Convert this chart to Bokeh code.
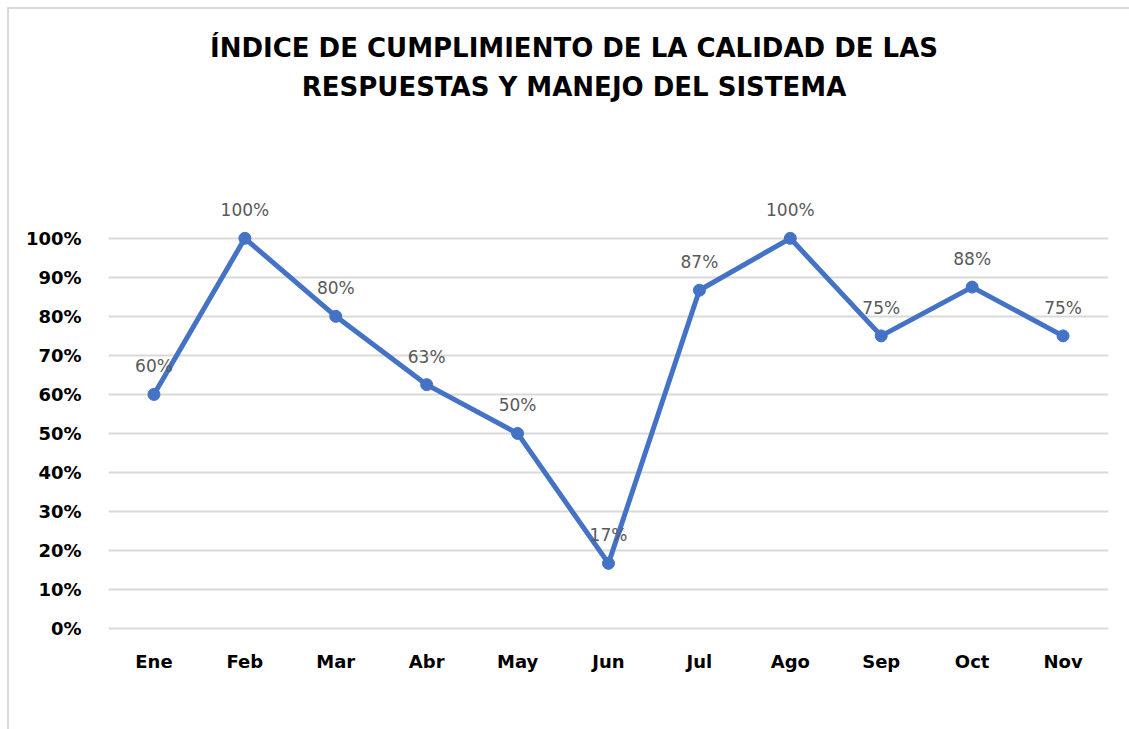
from bokeh.plotting import figure
from bokeh.models import FactorRange, Range1d, FixedTicker, NumeralTickFormatter, Div, ColumnDataSource
from bokeh.layouts import column
from bokeh.embed import file_html
from bokeh.resources import INLINE
from bokeh.core.properties import value

months = ["Ene", "Feb", "Mar", "Abr", "May", "Jun", "Jul", "Ago", "Sep", "Oct", "Nov"]
values = [0.60, 1.00, 0.80, 0.625, 0.50, 0.167, 0.867, 1.00, 0.75, 0.875, 0.75]
labels = ["60%", "100%", "80%", "63%", "50%", "17%", "87%", "100%", "75%", "88%", "75%"]
y_ticks = [0.0, 0.1, 0.2, 0.3, 0.4, 0.5, 0.6, 0.7, 0.8, 0.9, 1.0]
title_1 = "ÍNDICE DE CUMPLIMIENTO DE LA CALIDAD DE LAS"
title_2 = "RESPUESTAS Y MANEJO DEL SISTEMA"

FONT = "DejaVu Sans"
BLUE = "#4472C4"

src = ColumnDataSource(dict(x=months, y=values, t=labels))

title_div = Div(
    text=(f'<div style="margin-left:10px;width:1110px;text-align:center;font-family:\'{FONT}\';'
          f'font-weight:bold;font-size:26px;line-height:39px;padding-top:20px;color:#000000;">'
          f'{title_1}<br>{title_2}</div>'),
    width=1120, height=120, styles={"margin": "0", "padding": "0"})

p = figure(width=1120, height=600, x_range=FactorRange(*months, range_padding=0),
           y_range=Range1d(-0.005, 1.12), output_backend="svg", toolbar_location=None,
           min_border_left=99, min_border_right=21, min_border_bottom=99, min_border_top=62)

p.outline_line_color = None
p.background_fill_color = "white"
p.border_fill_color = "white"

p.xgrid.grid_line_color = None
p.ygrid.grid_line_color = "#d9d9d9"
p.ygrid.grid_line_width = 2
p.yaxis.ticker = FixedTicker(ticks=y_ticks)
p.yaxis.formatter = NumeralTickFormatter(format="0%")

for ax in (p.xaxis, p.yaxis):
    ax.axis_line_color = None
    ax.major_tick_line_color = None
    ax.minor_tick_line_color = None
    ax.major_label_text_font = FONT
    ax.major_label_text_font_style = "bold"
    ax.major_label_text_font_size = "18px"
    ax.major_label_text_color = "#000000"
p.yaxis.major_label_standoff = 21
p.xaxis.major_label_standoff = 14

p.line("x", "y", source=src, line_color=BLUE, line_width=5)
p.scatter("x", "y", source=src, size=12, fill_color=BLUE, line_color=BLUE)
p.text("x", "y", text="t", source=src, y_offset=-28, text_align="center", text_baseline="middle",
       text_font=value(FONT), text_font_size="17px", text_color="#595959")

layout = column(title_div, p, spacing=0,
                styles={"border-top": "2px solid #d9d9d9", "border-left": "2px solid #d9d9d9",
                        "margin-left": "7px", "margin-top": "7px", "background-color": "white"})

open("out.html", "w").write(file_html(layout, INLINE))
